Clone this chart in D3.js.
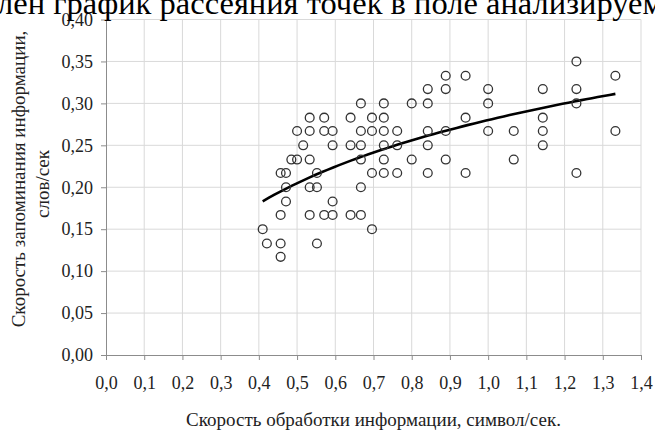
<!DOCTYPE html>
<html><head><meta charset="utf-8">
<script src="https://cdn.jsdelivr.net/npm/d3@7"></script>
<style>body{margin:0;background:#fff}svg{display:block}text{font-family:"Liberation Serif","Times New Roman",serif}</style>
</head><body><svg id="c" width="655" height="431"></svg>
<script>
// x values (processing speed, symbol/sec) and y values (memorizing speed, words/sec)
const xs = [0.410,0.421,0.457,0.457,0.457,0.457,0.471,0.471,0.471,0.485,0.500,0.500,0.516,
  0.533,0.533,0.533,0.533,0.533,0.552,0.552,0.552,0.571,0.571,0.571,0.593,0.593,0.593,0.593,
  0.640,0.640,0.640,0.667,0.667,0.667,0.667,0.667,0.667,0.696,0.696,0.696,0.696,
  0.727,0.727,0.727,0.727,0.727,0.727,0.762,0.762,0.762,0.800,0.800,
  0.842,0.842,0.842,0.842,0.842,0.889,0.889,0.889,0.889,0.941,0.941,0.941,
  1.000,1.000,1.000,1.067,1.067,1.143,1.143,1.143,1.143,1.231,1.231,1.231,1.231,1.333,1.333];
const ys = [0.150,0.133,0.217,0.167,0.133,0.117,0.217,0.200,0.183,0.233,0.267,0.233,0.250,
  0.283,0.267,0.233,0.200,0.167,0.217,0.200,0.133,0.283,0.267,0.167,0.267,0.250,0.183,0.167,
  0.283,0.250,0.167,0.300,0.267,0.250,0.233,0.200,0.167,0.283,0.267,0.217,0.150,
  0.300,0.283,0.267,0.250,0.233,0.217,0.267,0.250,0.217,0.300,0.233,
  0.317,0.300,0.267,0.250,0.217,0.333,0.317,0.267,0.233,0.333,0.283,0.217,
  0.317,0.300,0.267,0.267,0.233,0.317,0.283,0.267,0.250,0.350,0.317,0.300,0.217,0.333,0.267];
const xTicks = [0,0.1,0.2,0.3,0.4,0.5,0.6,0.7,0.8,0.9,1.0,1.1,1.2,1.3,1.4];
const yTicks = [0,0.05,0.1,0.15,0.2,0.25,0.3,0.35,0.4];
const topText = "лен график рассеяния точек в поле анализируем";
const xTitle = "Скорость обработки информации, символ/сек.";
const yTitle1 = "Скорость запоминания информации,";
const yTitle2 = "слов/сек";

const svg = d3.select("#c");
const L=106, R=641, T=19.5, B=355;
const x = d3.scaleLinear().domain([0,1.4]).range([L,R]);
const y = d3.scaleLinear().domain([0,0.4]).range([B,T]);
const fmt = d => d3.format(".1f")(d).replace(".",",");
const fmtY = d => d3.format(".2f")(d).replace(".",",");

// grid
const g = svg.append("g");
g.selectAll("line.v").data(xTicks.slice(1)).join("line")
  .attr("x1",d=>x(d)).attr("x2",d=>x(d)).attr("y1",T).attr("y2",B)
  .attr("stroke","#d9d9d9").attr("stroke-width",1);
g.selectAll("line.h").data(yTicks.slice(1)).join("line")
  .attr("x1",L).attr("x2",R).attr("y1",d=>y(d)).attr("y2",d=>y(d))
  .attr("stroke","#d9d9d9").attr("stroke-width",1);

// axes
const xa = svg.append("g").attr("transform",`translate(0,${B})`)
  .call(d3.axisBottom(x).tickValues(xTicks).tickFormat(fmt).tickSize(5).tickSizeOuter(0));
const ya = svg.append("g").attr("transform",`translate(${L},0)`)
  .call(d3.axisLeft(y).tickValues(yTicks).tickFormat(fmtY).tickSize(5).tickSizeOuter(0));
[xa,ya].forEach(a=>{
  a.select(".domain").attr("stroke","#8c8c8c");
  a.selectAll(".tick line").attr("stroke","#8c8c8c");
  a.selectAll("text").attr("fill","#222").style("font-size","18px").style("font-family",'"Liberation Serif",serif');
});
xa.selectAll("text").attr("dy","0").attr("y",34);
ya.selectAll("text").attr("x",-13).attr("dy","0.32em");

// trend line: logarithmic least squares fit
const lx = xs.map(Math.log);
const mx = d3.mean(lx), my = d3.mean(ys);
const a = d3.sum(lx.map((v,i)=>(v-mx)*(ys[i]-my)))/d3.sum(lx.map(v=>(v-mx)*(v-mx)));
const b = my - a*mx;
const x0 = d3.min(xs), x1 = d3.max(xs);
const pts = d3.range(0,61).map(i=>{const xv=x0+(x1-x0)*i/60; return [xv, a*Math.log(xv)+b];});
svg.append("path").datum(pts)
  .attr("d", d3.line().x(d=>x(d[0])).y(d=>y(d[1])))
  .attr("fill","none").attr("stroke","#000").attr("stroke-width",2.6);

// points
svg.append("g").selectAll("circle").data(xs.map((v,i)=>[v,ys[i]])).join("circle")
  .attr("cx",d=>x(d[0])).attr("cy",d=>y(d[1])).attr("r",4.4)
  .attr("fill","none").attr("stroke","#333").attr("stroke-width",1.3);

// titles
svg.append("text").attr("x",-3).attr("y",14).text(topText)
  .style("font-size","32.5px").attr("fill","#000");
svg.append("text").attr("x",(L+R)/2).attr("y",426).attr("text-anchor","middle")
  .text(xTitle).style("font-size","19px").attr("fill","#222");
svg.append("text").attr("transform","translate(25,179) rotate(-90)").attr("text-anchor","middle")
  .text(yTitle1).style("font-size","19px").attr("fill","#222");
svg.append("text").attr("transform","translate(49,184) rotate(-90)").attr("text-anchor","middle")
  .text(yTitle2).style("font-size","19px").attr("fill","#222");
</script></body></html>
